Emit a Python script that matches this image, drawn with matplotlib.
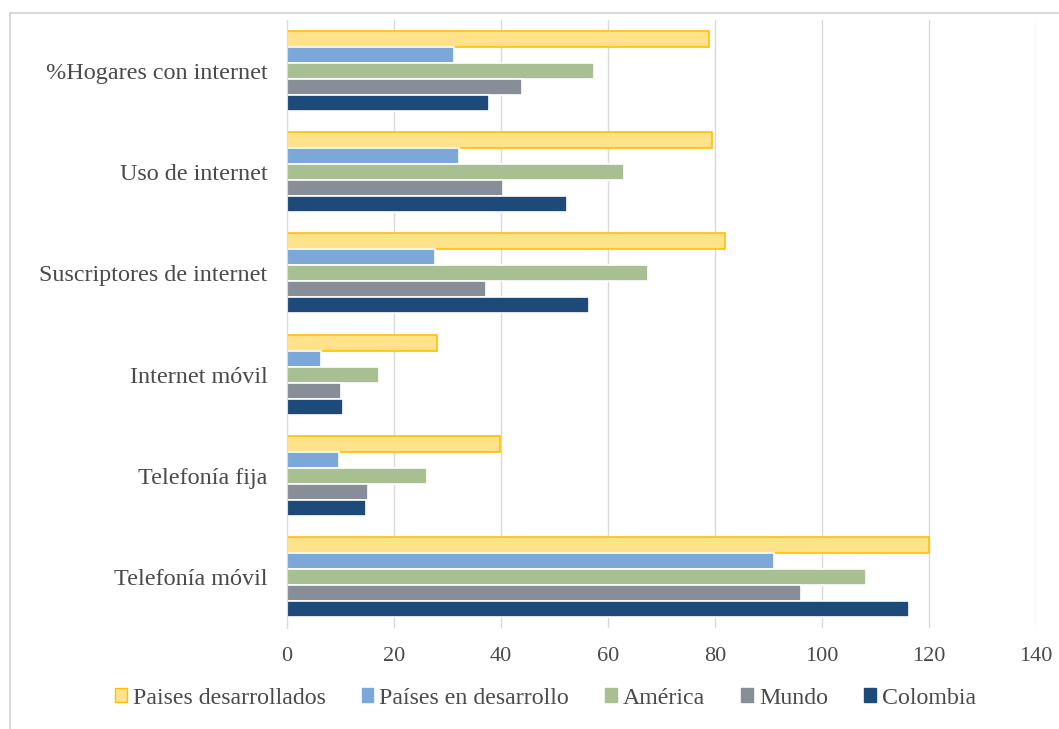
import matplotlib
matplotlib.use("Agg")
import matplotlib.pyplot as plt
import numpy as np
from matplotlib.patches import Rectangle, Patch

categories = ["Telefonía móvil", "Telefonía fija", "Internet móvil",
              "Suscriptores de internet", "Uso de internet", "%Hogares con internet"]
series = ["Paises desarrollados", "Países en desarrollo", "América", "Mundo", "Colombia"]

desarrollados = [120, 39.8, 28, 81.9, 79.4, 78.9]
en_desarrollo = [91, 9.7, 6.4, 27.7, 32.1, 31.2]
america = [108.2, 26.2, 17.2, 67.5, 63, 57.4]
mundo = [96, 15.1, 10.1, 37.2, 40.4, 43.9]
colombia = [116.3, 14.8, 10.5, 56.4, 52.3, 37.8]

xticks = [0, 20, 40, 60, 80, 100, 120, 140]

values = [desarrollados, en_desarrollo, america, mundo, colombia]
fills = ["#FFE28A", "#7BA7D9", "#A8BF92", "#888E98", "#1E4A7A"]
edges = ["#FFC000", "white", "white", "white", "white"]

plt.rcParams["font.family"] = ["Liberation Serif", "DejaVu Serif"]
text_color = "#4A4A4A"

fig = plt.figure(figsize=(10.59, 7.29), dpi=100)
fig.patch.set_facecolor("white")

# thin chart-area frame
fig.patches.append(Rectangle((10 / 1059, -0.1), 1.2, 1 - 13 / 729 + 0.1,
                             transform=fig.transFigure, fill=False,
                             edgecolor="#D0D0D0", linewidth=1.2))

ax = fig.add_axes([287 / 1059, 1 - 628 / 729, (1036 - 287) / 1059, (628 - 20) / 729])

y = np.arange(len(categories))
h = 0.158
offsets = [2 * h, h, 0, -h, -2 * h]
for vals, off, fc, ec in zip(values, offsets, fills, edges):
    ax.barh(y + off, vals, height=h, color=fc, edgecolor=ec,
            linewidth=1.2, zorder=3)

ax.set_xlim(0, 140)
ax.set_ylim(-0.5, len(categories) - 0.5)
ax.set_xticks(xticks)
ax.set_xticklabels([str(t) for t in xticks])
ax.set_yticks(y)
ax.set_yticklabels(categories)
ax.tick_params(axis="both", length=0, colors=text_color)
ax.tick_params(axis="x", pad=14, labelsize=16)
ax.tick_params(axis="y", pad=14, labelsize=17.4)
ax.grid(axis="x", color="#D9D9D9", linewidth=1, zorder=0)
for s in ["top", "right", "bottom"]:
    ax.spines[s].set_visible(False)
ax.spines["left"].set_color("#D9D9D9")
ax.spines["left"].set_zorder(4)

handles = [Patch(facecolor=fc, edgecolor=(ec if ec != "white" else fc))
           for fc, ec in zip(fills, edges)]
leg = fig.legend(handles, series, loc="center", ncol=5,
                 bbox_to_anchor=(0.515, 1 - 698 / 729), frameon=False,
                 fontsize=17.2, handlelength=0.5, handleheight=0.5,
                 handletextpad=0.25, columnspacing=1.5)
for t in leg.get_texts():
    t.set_color(text_color)

fig.savefig("out.png", dpi=100, facecolor="white")
